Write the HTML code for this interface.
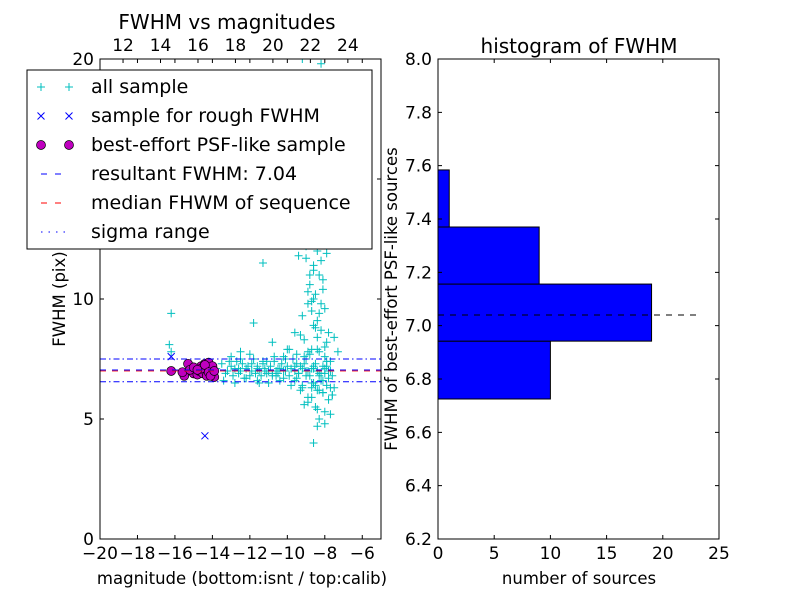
<!DOCTYPE html>
<html><head><meta charset="utf-8"><style>
body{margin:0;background:#fff;}
svg text{font-family:"DejaVu Sans","Liberation Sans",sans-serif;fill:#000;}
</style></head><body>
<svg id="chart" width="800" height="600" xmlns="http://www.w3.org/2000/svg"></svg>
<script>
// ---- left scatter data (magnitude, fwhm) ----
const allMag = [-16.2,-16.3,-16.2,-13.8,-13.5,-13.3,-13.2,-13.0,-12.9,-12.8,-12.7,-12.6,-12.5,-12.4,-12.3,-12.2,-12.1,-12.0,-11.9,-11.8,-11.7,-11.6,-11.5,-11.4,-11.3,-11.2,-11.1,-11.0,-10.9,-10.8,-10.7,-10.6,-10.5,-10.4,-10.3,-10.2,-10.1,-10.0,-9.9,-9.8,-9.7,-9.6,-9.5,-9.4,-9.3,-9.2,-9.1,-9.0,-8.9,-8.8,-8.7,-8.6,-8.5,-8.4,-8.3,-8.2,-8.1,-8.0,-7.9,-7.8,-7.7,-7.6,
-13.4,-13.1,-12.8,-12.5,-12.2,-11.9,-11.6,-11.3,-11.0,-10.7,-10.4,-10.1,-9.8,-9.5,-9.2,-8.9,-8.6,-8.3,-8.0,-7.7,
-13.0,-12.6,-12.0,-11.5,-11.1,-10.6,-10.2,-9.9,-9.6,-9.3,-9.0,-8.7,-8.4,-8.1,-7.9,
-11.8,-11.3,-12.5,-10.8,-10.0,-9.6,-9.2,-9.1,-8.9,-8.8,-8.7,-8.6,-8.5,-8.4,-8.3,-8.2,-8.1,-8.0,-7.9,-7.8,-7.5,-7.3,
-9.2,-9.0,-8.8,-8.6,-8.5,-8.4,-8.3,-8.2,-8.1,-8.0,-7.9,-9.4,-9.7,-8.9,-8.7,
-9.3,-9.1,-8.9,-8.6,-8.4,-8.2,-8.0,-8.8,-8.5,-8.3,-9.5,-9.0,-8.7,-8.1,
-9.2,-8.2,-8.5,-8.7,-8.0,-8.3,-7.6,-8.9,-8.4,-8.1,-7.8,-8.6,-7.7,-8.0,-8.4,-7.6,-7.5,
-9.6,-9.4,-9.2,-9.0,-8.8,-8.6,-8.4,-8.2,-8.0,-7.8,-9.5,-9.1,-8.7,-8.3,-7.9,-10.2,-10.5,-10.8,-11.2,-11.6,
-8.5,-8.3,-8.1,-8.6,-8.4,-8.2,-8.0,-8.7,-8.9,-9.1,-8.3,-8.5,-8.1,-8.4,-7.7,-8.2,-8.6,-8.8,-9.0,-9.3];
const allFwhm = [9.4,8.1,7.8,7.1,7.3,6.9,7.0,7.2,6.8,7.1,7.4,6.9,7.0,7.3,6.7,7.1,7.2,6.8,7.0,7.5,6.9,7.2,7.0,6.8,7.3,7.1,6.9,7.0,7.2,6.8,7.4,7.0,6.9,7.1,7.3,6.7,7.0,7.2,6.8,7.1,7.5,6.6,7.3,6.9,7.2,6.4,7.6,6.8,7.0,7.7,6.5,7.1,7.3,6.2,7.8,6.6,7.2,6.9,7.4,6.7,7.0,6.8,
6.6,7.4,6.5,7.5,6.7,7.3,6.6,7.4,6.5,7.6,6.6,7.5,6.4,7.7,6.3,7.8,6.5,6.9,7.6,6.3,
7.6,7.1,7.7,6.5,7.4,6.8,7.6,7.9,7.2,6.2,7.5,6.3,7.9,6.1,6.4,
9.0,11.5,7.8,8.2,7.9,8.6,9.3,8.3,9.8,10.6,9.5,8.9,10.2,9.1,11.0,8.7,10.4,9.6,8.2,8.6,8.4,7.8,
12.4,11.7,12.8,11.2,13.5,12.0,14.4,11.6,13.0,12.5,11.9,11.8,12.3,10.3,9.9,
14.8,15.6,16.3,13.9,15.1,17.4,15.9,18.0,12.9,16.8,13.6,12.6,19.2,14.2,
20.0,19.8,5.5,5.9,5.3,5.0,6.0,5.7,4.7,6.1,5.8,4.0,5.2,4.8,5.4,6.0,6.3,
7.0,6.9,7.1,7.0,6.8,7.2,7.0,6.9,7.1,7.0,6.7,7.3,7.1,6.8,7.2,7.0,7.1,6.9,7.0,7.1,
8.8,9.4,10.8,11.4,12.6,13.2,8.0,7.9,5.9,5.6,6.2,6.4,6.6,8.4,7.4,9.8,10.0,11.0,12.2,8.5];
const roughMag = [-16.2,-14.4,-15.4,-15.0,-14.6,-14.2];
const roughFwhm = [7.6,4.3,7.0,7.1,6.9,7.2];
const bestMag = [-16.2,-15.5,-15.3,-15.1,-15.0,-14.9,-14.8,-14.7,-14.6,-14.5,-14.4,-14.3,-14.3,-14.2,-14.1,-14.0,-14.0,-13.9,-15.6,-15.2,-14.6,-14.4,-14.2,-14.1,-13.9,-15.0,-14.8];
const bestFwhm = [7.0,6.8,7.3,7.0,6.9,7.1,6.85,7.0,7.2,6.9,7.3,7.05,6.8,7.35,7.0,7.2,6.9,6.75,6.95,7.05,7.1,7.25,6.95,6.8,7.0,7.15,7.05];
const resultFwhm = 7.04, medianFwhm = 7.0, sigmaLo = 6.55, sigmaHi = 7.5;
const xTicks = [-20,-18,-16,-14,-12,-10,-8,-6];
const yTicks = [0,5,10,15,20];
const topTicks = [12,14,16,18,20,22,24];
// ---- histogram data ----
const binEdges = [6.725,6.942,7.156,7.37,7.584];
const binCounts = [10,19,9,1];
const hxTicks = [0,5,10,15,20,25];
const hyTicks = [6.2,6.4,6.6,6.8,7.0,7.2,7.4,7.6,7.8,8.0];

const svg = document.getElementById('chart');
const NS = 'http://www.w3.org/2000/svg';
function mk(tag, attrs, parent){const e=document.createElementNS(NS,tag);for(const k in attrs)e.setAttribute(k,attrs[k]);(parent||svg).appendChild(e);return e;}
function txt(s,x,y,size,anchor,parent){const t=mk('text',{x:x,y:y,'font-size':size,'text-anchor':anchor||'middle'},parent);t.textContent=s;return t;}

// left axes
const L={x0:100,x1:381,y0:59,y1:539};
const sx=m=>L.x0+(m+20)/15*(L.x1-L.x0);
const sy=f=>L.y1-f/20*(L.y1-L.y0);
const sxTop=c=>sx(c-30.77);

const clip=mk('clipPath',{id:'lc'});mk('rect',{x:L.x0,y:L.y0,width:L.x1-L.x0,height:L.y1-L.y0},clip);
const gl=mk('g',{'clip-path':'url(#lc)'});



for(let i=0;i<allMag.length;i++){
  const x=sx(allMag[i]),y=sy(allFwhm[i]);
  const p=mk('path',{d:`M${x-4},${y}H${x+4}M${x},${y-4}V${y+4}`,stroke:'#00bfbf','stroke-width':1},gl);
  
  
}
for(let i=0;i<roughMag.length;i++){
  const x=sx(roughMag[i]),y=sy(roughFwhm[i]);
  const p=mk('path',{d:`M${x-3.5},${y-3.5}L${x+3.5},${y+3.5}M${x-3.5},${y+3.5}L${x+3.5},${y-3.5}`,stroke:'#0000ff','stroke-width':1},gl);
  
  
}
for(let i=0;i<bestMag.length;i++){
  const c=mk('circle',{cx:sx(bestMag[i]),cy:sy(bestFwhm[i]),r:4.5,fill:'#bf00bf',stroke:'#000','stroke-width':0.7},gl);
  
  
}
let ln=mk('line',{x1:L.x0,x2:L.x1,y1:sy(resultFwhm),y2:sy(resultFwhm),stroke:'#0000ff','stroke-dasharray':'6,6'},gl);

ln=mk('line',{x1:L.x0,x2:L.x1,y1:sy(medianFwhm),y2:sy(medianFwhm),stroke:'#ff0000','stroke-dasharray':'6,6',opacity:0.8},gl);

for(const v of [sigmaLo,sigmaHi]){
  ln=mk('line',{x1:L.x0,x2:L.x1,y1:sy(v),y2:sy(v),stroke:'#0000ff','stroke-dasharray':'6,3,1.5,3'},gl);
  
}
let fr=mk('rect',{x:L.x0,y:L.y0,width:L.x1-L.x0,height:L.y1-L.y0,fill:'none',stroke:'#000'});

for(const t of xTicks){const x=sx(t);mk('path',{d:`M${x},${L.y1}v-4M${x},${L.y0}v4`,stroke:'#000'});
  const e=txt(String(t).replace('-','\u2212'),x,559,17);}
for(const t of yTicks){const y=sy(t);mk('path',{d:`M${L.x0},${y}h4M${L.x1},${y}h-4`,stroke:'#000'});
  const e=txt(String(t),L.x0-6,y+6,17,'end');}
for(const t of topTicks){const x=sxTop(t);mk('path',{d:`M${x},${L.y0}v4`,stroke:'#000'});
  const e=txt(String(t),x,51,17);}
let e=txt('FWHM vs magnitudes',227,29,20);
e=txt('magnitude (bottom:isnt / top:calib)',242,584,16.5);
e=txt('FWHM (pix)',0,0,16.5);e.setAttribute('transform','translate(65,299) rotate(-90)');

// legend
const lg=mk('g',{});
mk('rect',{x:27,y:70,width:345,height:179,fill:'#fff',stroke:'#000'},lg);
const labels=['all sample','sample for rough FWHM','best-effort PSF-like sample','resultant FWHM: 7.04','median FHWM of sequence','sigma range'];
labels.forEach((s,i)=>{
  const y=87+i*29, g=mk('g',{},lg);
  
  for(const x of [41,69]){
    if(i===0)mk('path',{d:`M${x-4},${y}H${x+4}M${x},${y-4}V${y+4}`,stroke:'#00bfbf'},g);
    if(i===1)mk('path',{d:`M${x-3.5},${y-3.5}L${x+3.5},${y+3.5}M${x-3.5},${y+3.5}L${x+3.5},${y-3.5}`,stroke:'#0000ff'},g);
    if(i===2)mk('circle',{cx:x,cy:y,r:4.5,fill:'#bf00bf',stroke:'#000','stroke-width':0.7},g);
  }
  if(i>=3)mk('line',{x1:41,x2:69,y1:y,y2:y,stroke:i===4?'#ff0000':'#0000ff','stroke-dasharray':i===5?'1.5,6':'6,8'},g);
  txt(s,91,y+6,19,'start',g);
});

// right histogram
const R={x0:438,x1:719,y0:59,y1:539};
const hx=c=>R.x0+c/25*(R.x1-R.x0);
const hy=v=>R.y1-(v-6.2)/1.8*(R.y1-R.y0);
for(let i=0;i<binCounts.length;i++){
  const r=mk('rect',{x:hx(0),y:hy(binEdges[i+1]),width:hx(binCounts[i])-hx(0),height:hy(binEdges[i])-hy(binEdges[i+1]),fill:'#0000ff',stroke:'#000','stroke-width':1});
  
}
ln=mk('line',{x1:hx(0),x2:hx(23),y1:hy(resultFwhm),y2:hy(resultFwhm),stroke:'#000','stroke-dasharray':'6,6'});

fr=mk('rect',{x:R.x0,y:R.y0,width:R.x1-R.x0,height:R.y1-R.y0,fill:'none',stroke:'#000'});

for(const t of hxTicks){const x=hx(t);mk('path',{d:`M${x},${R.y1}v-4M${x},${R.y0}v4`,stroke:'#000'});
  e=txt(String(t),x,559,17);}
for(const t of hyTicks){const y=hy(t);mk('path',{d:`M${R.x0},${y}h4M${R.x1},${y}h-4`,stroke:'#000'});
  e=txt(t.toFixed(1),R.x0-6,y+6,17,'end');}
e=txt('histogram of FWHM',579,53,20);
e=txt('number of sources',579,584,16.5);
e=txt('FWHM of best-effort PSF-like sources',0,0,16.5);e.setAttribute('transform','translate(397,299) rotate(-90)');
</script>
</body></html>
